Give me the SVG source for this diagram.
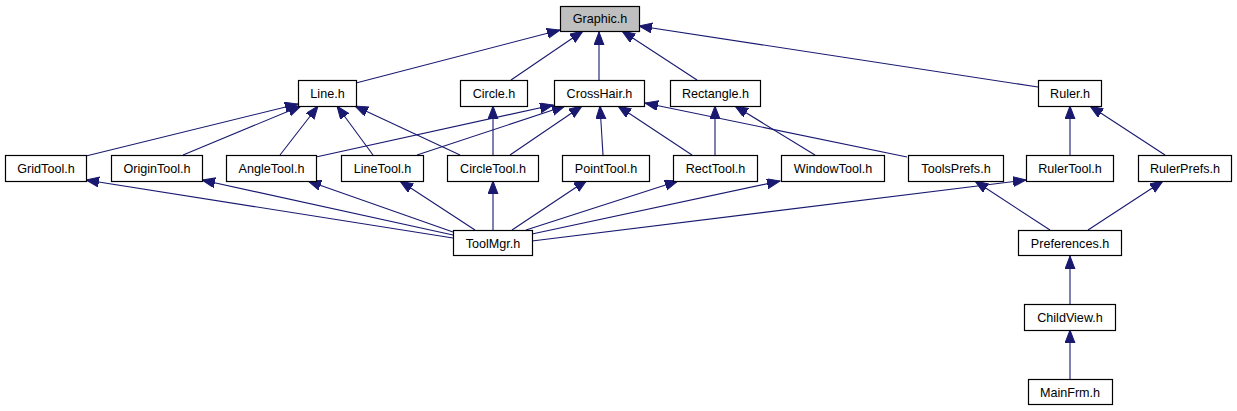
<svg xmlns="http://www.w3.org/2000/svg" width="1237" height="411" viewBox="0 0 1237 411">
<style>
.n rect{fill:#fff;stroke:#000;stroke-width:1.2}
.n text{font-family:"Liberation Sans",Arial,sans-serif;font-size:12.6px;fill:#000;text-anchor:middle}
#edges path{fill:none;stroke:#191970;stroke-width:1.1;marker-end:url(#ah)}
</style>
<defs>
<marker id="ah" markerUnits="userSpaceOnUse" markerWidth="14" markerHeight="11" refX="13" refY="5" orient="auto">
<path d="M0,0 L13,5 L0,10 z" fill="#191970" stroke="#191970" stroke-width="1"/>
</marker>
</defs>
<rect width="1237" height="411" fill="#fff"/>
<g id="edges">
<path d="M356,83 L560,30"/>
<path d="M511,80 L583,31"/>
<path d="M599,80 L599,32"/>
<path d="M697,80 L622,31"/>
<path d="M1038,87 L639,26"/>
<path d="M86,156 L298,104"/>
<path d="M183,155 L301,106"/>
<path d="M280,155 L318,106"/>
<path d="M373,155 L337,106"/>
<path d="M460,155 L355,106"/>
<path d="M316,157 L553,105"/>
<path d="M417,155 L565,106"/>
<path d="M510,155 L582,106"/>
<path d="M493,155 L493,106"/>
<path d="M603,155 L600,106"/>
<path d="M692,155 L618,106"/>
<path d="M907,157 L645,103"/>
<path d="M715,155 L715,106"/>
<path d="M815,155 L735,106"/>
<path d="M1070,155 L1070,106"/>
<path d="M1165,155 L1090,106"/>
<path d="M453,238 L86,180"/>
<path d="M453,235 L202,180"/>
<path d="M453,232 L308,181"/>
<path d="M475,230 L400,181"/>
<path d="M493,230 L493,181"/>
<path d="M512,230 L587,180"/>
<path d="M526,230 L678,181"/>
<path d="M532,234 L780,181"/>
<path d="M532,241 L1026,180"/>
<path d="M1050,230 L975,181"/>
<path d="M1088,230 L1163,181"/>
<path d="M1070,304 L1070,256"/>
<path d="M1070,379 L1070,330"/>
</g>
<g id="graphic" class="n"><rect x="560.5" y="6.5" width="79" height="25" style="fill:#bfbfbf"/><text x="600" y="23">Graphic.h</text></g>
<g id="line" class="n"><rect x="298.5" y="80.5" width="58" height="26"/><text x="327.5" y="97.5">Line.h</text></g>
<g id="circle" class="n"><rect x="460.5" y="80.5" width="67" height="26"/><text x="494" y="97.5">Circle.h</text></g>
<g id="crosshair" class="n"><rect x="554.5" y="80.5" width="90" height="26"/><text x="599.5" y="97.5">CrossHair.h</text></g>
<g id="rectangle" class="n"><rect x="670.5" y="80.5" width="90" height="26"/><text x="715.5" y="97.5">Rectangle.h</text></g>
<g id="ruler" class="n"><rect x="1038.5" y="80.5" width="63" height="26"/><text x="1070" y="97.5">Ruler.h</text></g>
<g id="gridtool" class="n"><rect x="5.5" y="155.5" width="81" height="26"/><text x="46" y="172.5">GridTool.h</text></g>
<g id="origintool" class="n"><rect x="111.5" y="155.5" width="91" height="26"/><text x="157" y="172.5">OriginTool.h</text></g>
<g id="angletool" class="n"><rect x="226.5" y="155.5" width="90" height="26"/><text x="271.5" y="172.5">AngleTool.h</text></g>
<g id="linetool" class="n"><rect x="341.5" y="155.5" width="82" height="26"/><text x="382.5" y="172.5">LineTool.h</text></g>
<g id="circletool" class="n"><rect x="447.5" y="155.5" width="91" height="26"/><text x="493" y="172.5">CircleTool.h</text></g>
<g id="pointtool" class="n"><rect x="562.5" y="155.5" width="87" height="26"/><text x="606" y="172.5">PointTool.h</text></g>
<g id="recttool" class="n"><rect x="673.5" y="155.5" width="84" height="26"/><text x="715.5" y="172.5">RectTool.h</text></g>
<g id="windowtool" class="n"><rect x="781.5" y="155.5" width="103" height="26"/><text x="833" y="172.5">WindowTool.h</text></g>
<g id="toolsprefs" class="n"><rect x="908.5" y="155.5" width="95" height="26"/><text x="956" y="172.5">ToolsPrefs.h</text></g>
<g id="rulertool" class="n"><rect x="1026.5" y="155.5" width="87" height="26"/><text x="1070" y="172.5">RulerTool.h</text></g>
<g id="rulerprefs" class="n"><rect x="1138.5" y="155.5" width="93" height="26"/><text x="1185" y="172.5">RulerPrefs.h</text></g>
<g id="toolmgr" class="n"><rect x="453.5" y="230.5" width="79" height="25"/><text x="493" y="247.5">ToolMgr.h</text></g>
<g id="preferences" class="n"><rect x="1018.5" y="230.5" width="103" height="25"/><text x="1070" y="247.5">Preferences.h</text></g>
<g id="childview" class="n"><rect x="1024.5" y="304.5" width="91" height="26"/><text x="1070" y="321.5">ChildView.h</text></g>
<g id="mainfrm" class="n"><rect x="1028.5" y="379.5" width="84" height="25"/><text x="1070" y="396.5">MainFrm.h</text></g>
</svg>
